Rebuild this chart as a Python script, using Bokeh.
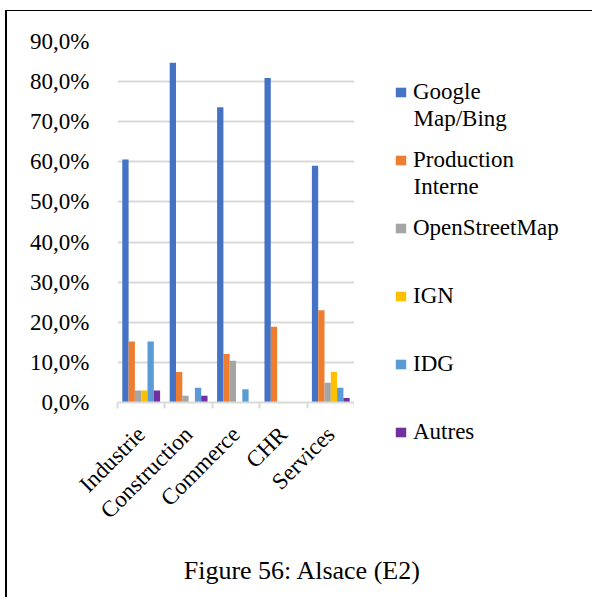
from math import pi
from bokeh.plotting import figure
from bokeh.layouts import row, column
from bokeh.models import (Range1d, LinearAxis, FixedTicker, Legend, LegendItem, Label,
                          ColumnDataSource, CustomJSTickFormatter)
from bokeh.transform import dodge
from bokeh.embed import file_html
from bokeh.resources import INLINE

# ---- data (percent) ----
categories = ["Industrie", "Construction", "Commerce", "CHR", "Services"]
series_names = ["Google Map/Bing", "Production Interne", "OpenStreetMap", "IGN", "IDG", "Autres"]
google = [60.6, 84.7, 73.6, 80.9, 59.0]
production = [15.2, 7.6, 12.1, 18.9, 23.0]
osm = [3.0, 1.7, 10.4, 0.0, 4.9]
ign = [3.0, 0.0, 0.0, 0.0, 7.6]
idg = [15.2, 3.7, 3.3, 0.0, 3.7]
autres = [3.0, 1.7, 0.0, 0.0, 1.1]
y_ticks = [0, 10, 20, 30, 40, 50, 60, 70, 80, 90]
y_tick_labels = ["0,0%", "10,0%", "20,0%", "30,0%", "40,0%", "50,0%", "60,0%", "70,0%", "80,0%", "90,0%"]
legend_first_lines = ["Google", "Production", "OpenStreetMap", "IGN", "IDG", "Autres"]
legend_second_lines = ["Map/Bing", "Interne", "", "", "", ""]
caption = "Figure 56: Alsace (E2)"

colors = ["#4472C4", "#ED7D31", "#A5A5A5", "#FFC000", "#5B9BD5", "#7030A0"]
FONT = "Liberation Serif"
TXT = "#000000"

n = len(categories)
centers = [i + 0.5 for i in range(n)]
source = ColumnDataSource(data=dict(xc=centers, google=google, production=production,
                                    osm=osm, ign=ign, idg=idg, autres=autres))
cols = ["google", "production", "osm", "ign", "idg", "autres"]

# ---------------- main chart ----------------
H1 = 529
p = figure(width=347, height=H1, x_range=Range1d(0, n), y_range=Range1d(0, 90),
           output_backend="svg", toolbar_location=None, x_axis_location=None,
           min_border_left=110, min_border_right=0, min_border_top=30, min_border_bottom=138,
           frame_align=False)
p.outline_line_color = None

yt = FixedTicker(ticks=y_ticks)
p.yaxis.ticker = yt
p.ygrid.ticker = yt
p.yaxis.major_label_overrides = dict(zip(y_ticks, y_tick_labels))
p.yaxis.axis_line_color = None
p.yaxis.major_tick_line_color = None
p.yaxis.minor_tick_line_color = None
p.yaxis.major_label_standoff = 22
p.yaxis.major_label_text_font = FONT
p.yaxis.major_label_text_font_size = "23px"
p.yaxis.major_label_text_color = TXT
p.ygrid.grid_line_color = "#d9d9d9"
p.ygrid.grid_line_width = 2
p.xgrid.grid_line_color = None

tick_axis = LinearAxis(ticker=FixedTicker(ticks=list(range(n + 1))),
                       formatter=CustomJSTickFormatter(code="return ''"),
                       axis_line_color="#d9d9d9", axis_line_width=2,
                       major_tick_in=0, major_tick_out=6, major_tick_line_color="#d9d9d9",
                       major_tick_line_width=2, minor_tick_line_color=None,
                       major_label_standoff=0, major_label_text_font_size="1px")
p.add_layout(tick_axis, "below")
cat_axis = LinearAxis(ticker=FixedTicker(ticks=centers),
                      major_label_overrides=dict(zip(centers, categories)),
                      axis_line_color=None, major_tick_line_color=None, minor_tick_line_color=None,
                      major_label_orientation=pi / 4, major_label_standoff=16,
                      major_label_text_font=FONT, major_label_text_font_size="23px",
                      major_label_text_color=TXT)
p.add_layout(cat_axis, "below")

w = 0.133
for i, c in enumerate(cols):
    p.vbar(x=dodge("xc", (i - 2.5) * w), top=c, width=w, source=source,
           fill_color=colors[i], line_color=None)

# ---------------- legend panel ----------------
LW = 238
lg = figure(width=LW, height=H1, x_range=Range1d(0, LW), y_range=Range1d(0, H1),
            output_backend="svg", toolbar_location=None, x_axis_location=None,
            y_axis_location=None, min_border=0, frame_align=False)
lg.outline_line_color = None
lg.grid.visible = False
nan = float("nan")
lrs = [lg.vbar(x=[nan], top=[nan], width=1, fill_color=colors[i], line_color=None)
       for i in range(len(cols))]
item_pitch = 68
label_h = 26
legend = Legend(items=[LegendItem(label=lbl, renderers=[r]) for lbl, r in zip(legend_first_lines, lrs)],
                location=(40, H1 - (81 + 5 * item_pitch) - label_h / 2),
                glyph_width=13, glyph_height=12, label_standoff=6,
                label_height=label_h, spacing=item_pitch - label_h, padding=0, margin=0,
                border_line_color=None, background_fill_alpha=0, label_text_font=FONT,
                label_text_font_size="23px", label_text_color=TXT)
lg.add_layout(legend)
for i, txt in enumerate(legend_second_lines):
    if txt:
        lg.add_layout(Label(x=59, y=H1 - (81 + i * item_pitch) - 26, x_units="screen", y_units="screen",
                            text=txt, text_font=FONT, text_font_size="23px", text_color=TXT,
                            text_baseline="middle"))

# ---------------- caption ----------------
cap = figure(width=585, height=57, x_range=Range1d(0, 1), y_range=Range1d(0, 1),
             output_backend="svg", toolbar_location=None, x_axis_location=None,
             y_axis_location=None, min_border=0, frame_align=False)
cap.outline_line_color = None
cap.grid.visible = False
cap.add_layout(Label(x=295, y=27, x_units="screen", y_units="screen", text=caption,
                     text_font=FONT, text_font_size="26px", text_color=TXT,
                     text_align="center", text_baseline="middle"))

layout = column(row(p, lg), cap, margin=(10, 0, 0, 5),
                styles={"border-left": "2px solid black", "border-top": "1px solid black"})

open("out.html", "w").write(file_html(layout, INLINE))
